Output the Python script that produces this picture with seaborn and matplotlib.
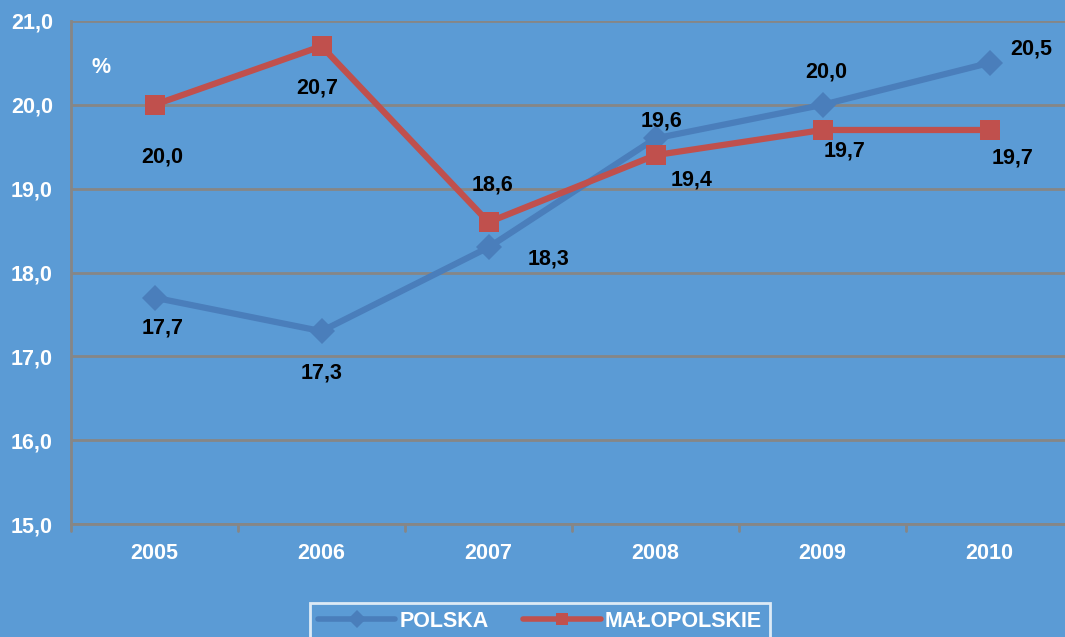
import matplotlib
matplotlib.use("Agg")
import matplotlib.pyplot as plt
import seaborn as sns
import pandas as pd

years = ["2005", "2006", "2007", "2008", "2009", "2010"]
polska = [17.7, 17.3, 18.3, 19.6, 20.0, 20.5]
malopolskie = [20.0, 20.7, 18.6, 19.4, 19.7, 19.7]
series_names = ["POLSKA", "MAŁOPOLSKIE"]
yticks = [15.0, 16.0, 17.0, 18.0, 19.0, 20.0, 21.0]

BG = "#5B9BD5"
BLUE = "#4A7EBB"
RED = "#C0504D"
GRID = "#868686"
FS = 15.5

sns.set_theme(style="white")
plt.rcParams["font.family"] = ["Liberation Sans", "DejaVu Sans"]
plt.rcParams["font.weight"] = "bold"

df = pd.DataFrame({
    "year": years * 2,
    "value": polska + malopolskie,
    "series": [series_names[0]] * len(years) + [series_names[1]] * len(years),
})

fig = plt.figure(figsize=(10.65, 6.37), dpi=100, facecolor=BG)
ax = fig.add_axes([71 / 1065, 1 - 524 / 637, 1002 / 1065, (524 - 21) / 637])
ax.set_facecolor(BG)

sns.lineplot(data=df, x="year", y="value", hue="series", style="series",
             palette={series_names[0]: BLUE, series_names[1]: RED},
             markers={series_names[0]: "D", series_names[1]: "s"},
             dashes=False, linewidth=4.5, markersize=15, markeredgewidth=0,
             sort=False, ax=ax, legend=True)
for line in ax.lines:
    if line.get_color() == BLUE:
        line.set_markersize(13)
    line.set_markeredgewidth(0)

ax.set_xlim(-0.5, 5.5)
ax.set_ylim(15, 21)
ax.set_yticks(yticks)
ax.set_yticklabels([f"{v:.1f}".replace(".", ",") for v in yticks])
ax.yaxis.grid(True, color=GRID, linewidth=2)
ax.set_axisbelow(True)
ax.set_xlabel("")
ax.set_ylabel("")
for s in ["top", "right"]:
    ax.spines[s].set_visible(False)
for s in ["left", "bottom"]:
    ax.spines[s].set_color(GRID)
    ax.spines[s].set_linewidth(2)
ax.tick_params(axis="y", colors="white", labelsize=FS, length=4.5, width=2,
               color=GRID, pad=8.5)
ax.tick_params(axis="x", colors="white", labelsize=FS, length=0, pad=14)
for t in ax.get_xticklabels() + ax.get_yticklabels():
    t.set_fontweight("bold")
for b in [-0.5, 0.5, 1.5, 2.5, 3.5, 4.5]:
    ax.plot([b, b], [15, 15 - 0.08], color=GRID, lw=2, clip_on=False)

ax.text(-0.32, 20.45, "%", color="white", fontsize=FS, fontweight="bold",
        ha="center", va="center")

fmt = lambda v: f"{v:.1f}".replace(".", ",")
pol_off = [(8, -30), (0, -42), (60, -12), (6, 17), (4, 33), (42, 14)]
mal_off = [(8, -52), (-4, -42), (4, 37), (36, -25), (22, -21), (23, -28)]
for i, (v, o) in enumerate(zip(polska, pol_off)):
    ax.annotate(fmt(v), (i, v), xytext=o, textcoords="offset pixels",
                ha="center", va="center", fontsize=FS, fontweight="bold",
                color="black")
for i, (v, o) in enumerate(zip(malopolskie, mal_off)):
    ax.annotate(fmt(v), (i, v), xytext=o, textcoords="offset pixels",
                ha="center", va="center", fontsize=FS, fontweight="bold",
                color="black")

leg = ax.legend(loc="upper center", bbox_to_anchor=(540 / 1065, 34 / 637),
                bbox_transform=fig.transFigure, ncol=2, frameon=True,
                fontsize=FS, handlelength=3.6, borderpad=0.35,
                columnspacing=1.6, handletextpad=0.2, fancybox=False,
                borderaxespad=0)
leg.get_frame().set_facecolor(BG)
leg.get_frame().set_edgecolor("white")
leg.get_frame().set_linewidth(2)
for t in leg.get_texts():
    t.set_color("white")
    t.set_fontweight("bold")
for h in leg.legend_handles:
    h.set_linewidth(4)
    h.set_markersize(9)

fig.savefig("out.png", dpi=100, facecolor=BG)
